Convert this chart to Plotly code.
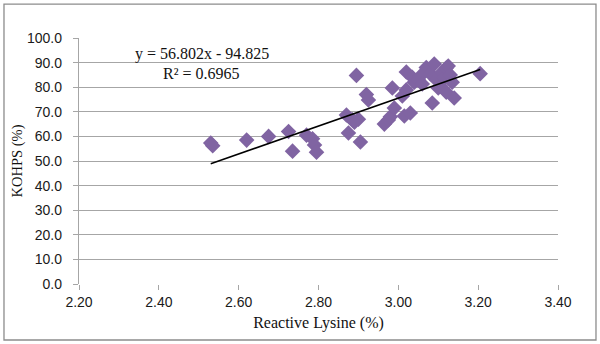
import plotly.graph_objects as go

# Data
lysine = [2.53, 2.535, 2.62, 2.675, 2.725, 2.735, 2.77, 2.785, 2.79, 2.795,
          2.87, 2.875, 2.885, 2.89, 2.895, 2.9, 2.905, 2.92, 2.925, 2.965,
          2.975, 2.98, 2.985, 2.99, 3.01, 3.015, 3.02, 3.02, 3.03, 3.035,
          3.04, 3.05, 3.055, 3.06, 3.07, 3.08, 3.085, 3.09, 3.095, 3.1,
          3.105, 3.11, 3.115, 3.12, 3.12, 3.125, 3.13, 3.135, 3.14, 3.205]
kohps = [57.3, 56.2, 58.5, 60.0, 62.0, 54.0, 60.5, 59.0, 56.5, 53.6,
         68.7, 61.4, 66.7, 65.8, 84.8, 67.0, 57.7, 77.0, 74.8, 65.0,
         66.7, 68.0, 79.7, 71.5, 76.4, 68.3, 78.9, 86.2, 69.5, 84.0,
         82.0, 82.9, 84.5, 81.3, 88.0, 85.5, 73.6, 89.4, 83.0, 79.7,
         80.5, 86.2, 83.7, 87.8, 78.0, 88.6, 85.0, 82.0, 75.6, 85.5]

slope = 56.802
intercept = -94.825
r2 = 0.6965

x_ticks = [2.2, 2.4, 2.6, 2.8, 3.0, 3.2, 3.4]
y_ticks = [0, 10, 20, 30, 40, 50, 60, 70, 80, 90, 100]

x_lo, x_hi = min(lysine), max(lysine)
trend_x = [x_lo, x_hi]
trend_y = [slope * v + intercept for v in trend_x]

fig = go.Figure()
fig.add_trace(go.Scatter(
    x=lysine, y=kohps, mode="markers",
    marker=dict(symbol="diamond", size=12, color="#8064A2",
                line=dict(width=0)),
    showlegend=False, hoverinfo="skip"))
fig.add_trace(go.Scatter(
    x=trend_x, y=trend_y, mode="lines",
    line=dict(color="black", width=1.5),
    showlegend=False, hoverinfo="skip"))

tick_font = dict(family="Liberation Sans", size=14, color="#1a1a1a")
serif_x = dict(family="Liberation Serif", size=16, color="#111111")
serif_y = dict(family="Liberation Serif", size=14.5, color="#111111")
serif_a = dict(family="Liberation Serif", size=16, color="#111111")

fig.update_layout(
    width=600, height=344,
    margin=dict(l=79, r=42, t=38, b=60),
    paper_bgcolor="white", plot_bgcolor="white",
    xaxis=dict(range=[2.2, 3.4], tickvals=x_ticks,
               ticktext=[f"{v:.2f}" for v in x_ticks],
               showgrid=False, zeroline=False,
               showline=False, ticks="outside", ticklen=5,
               tickcolor="#a6a6a6", tickfont=tick_font,
               title=dict(text="Reactive Lysine (%)", font=serif_x, standoff=8)),
    yaxis=dict(range=[0, 100], tickvals=y_ticks,
               ticktext=[f"{v:.1f}" for v in y_ticks],
               showgrid=True, gridcolor="#a6a6a6", gridwidth=1.3,
               zeroline=False, showline=True, linecolor="#a6a6a6",
               linewidth=1.3, ticks="outside", ticklen=5,
               tickcolor="#a6a6a6", tickfont=tick_font,
               ticklabelstandoff=8,
               title=dict(text="KOHPS (%)", font=serif_y, standoff=0)),
    shapes=[dict(type="rect", xref="paper", yref="paper",
                 x0=-0.1566, x1=1.0793, y0=-0.2276, y1=1.138,
                 line=dict(color="#8c8c8c", width=1.3))],
    annotations=[
        dict(x=2.507, y=93.5, xref="x", yref="y",
             text=f"y = {slope}x - {abs(intercept)}", showarrow=False,
             font=serif_a, xanchor="center", yanchor="middle"),
        dict(x=2.507, y=85.6, xref="x", yref="y",
             text=f"R² = {r2}", showarrow=False,
             font=serif_a, xanchor="center", yanchor="middle"),
    ],
)

fig.write_html("out.html")
